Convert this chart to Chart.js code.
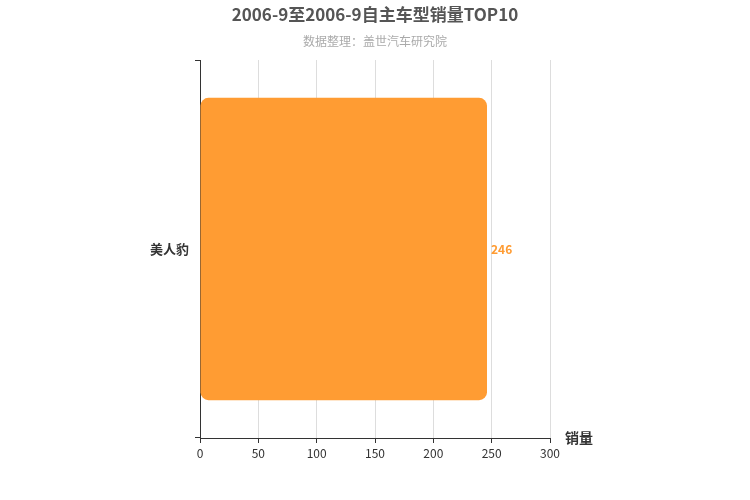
<!DOCTYPE html>
<html><head><meta charset="utf-8">
<script src="https://cdn.jsdelivr.net/npm/chart.js@4/dist/chart.umd.min.js"></script>
<style>html,body{margin:0;padding:0;background:#fff}#w{width:750px;height:500px}</style>
</head><body><div id="w"><canvas id="c"></canvas></div>
<script>
const categories = ["美人豹"];
const sales = [246];
const xTicks = [0, 50, 100, 150, 200, 250, 300];
const titleText = "2006-9至2006-9自主车型销量TOP10";
const subtitleText = "数据整理：盖世汽车研究院";
const axisName = "销量";
const FONT = "'Noto Sans CJK SC', 'Liberation Sans', sans-serif";

const deco = {
  id: 'deco',
  afterDraw(chart) {
    const ctx = chart.ctx, ca = chart.chartArea, xs = chart.scales.x;
    ctx.save();
    ctx.textAlign = 'center'; ctx.textBaseline = 'middle';
    ctx.fillStyle = '#555'; ctx.font = 'bold 17px ' + FONT;
    ctx.fillText(titleText, 375, 15);
    ctx.fillStyle = '#aaa'; ctx.font = '12px ' + FONT;
    ctx.fillText(subtitleText, 375, 41);
    ctx.fillStyle = '#333'; ctx.font = 'bold 14px ' + FONT; ctx.textAlign = 'left';
    ctx.fillText(axisName, ca.right + 15, ca.bottom);
    const meta = chart.getDatasetMeta(0);
    ctx.font = 'bold 12px ' + FONT; ctx.fillStyle = '#FF9C33';
    meta.data.forEach((el, i) => ctx.fillText(String(sales[i]), el.x + 4, el.y));
    // left axis ticks
    ctx.strokeStyle = '#333'; ctx.lineWidth = 1;
    ctx.beginPath();
    ctx.moveTo(ca.left - 5, ca.top + 0.5); ctx.lineTo(ca.left, ca.top + 0.5);
    ctx.moveTo(ca.left - 5, ca.bottom - 0.5); ctx.lineTo(ca.left, ca.bottom - 0.5);
    ctx.stroke();
    ctx.restore();
  }
};

new Chart(document.getElementById('c'), {
  type: 'bar',
  data: { labels: categories, datasets: [{ data: sales, backgroundColor: '#FF9C33', borderRadius: 8, borderSkipped: false, barPercentage: 0.8, categoryPercentage: 1 }] },
  options: {
    indexAxis: 'y', responsive: true, maintainAspectRatio: false, animation: false,
    layout: { padding: { top: 60, right: 200, left: 0, bottom: 32 } },
    plugins: { legend: { display: false }, tooltip: { enabled: false } },
    scales: {
      x: {
        min: 0, max: 300,
        afterBuildTicks: s => { s.ticks = xTicks.map(v => ({ value: v })); },
        afterFit: s => { s.height = 30; },
        grid: { color: '#ddd', drawTicks: true, tickLength: 5, tickColor: '#333' },
        border: { color: '#333' },
        ticks: { color: '#333', font: { size: 12, family: FONT } }
      },
      y: {
        afterFit: s => { s.width = 200; },
        grid: { display: false },
        border: { color: '#333' },
        ticks: { color: '#333', font: { size: 13, weight: 'bold', family: FONT } }
      }
    }
  },
  plugins: [deco]
});
</script></body></html>
